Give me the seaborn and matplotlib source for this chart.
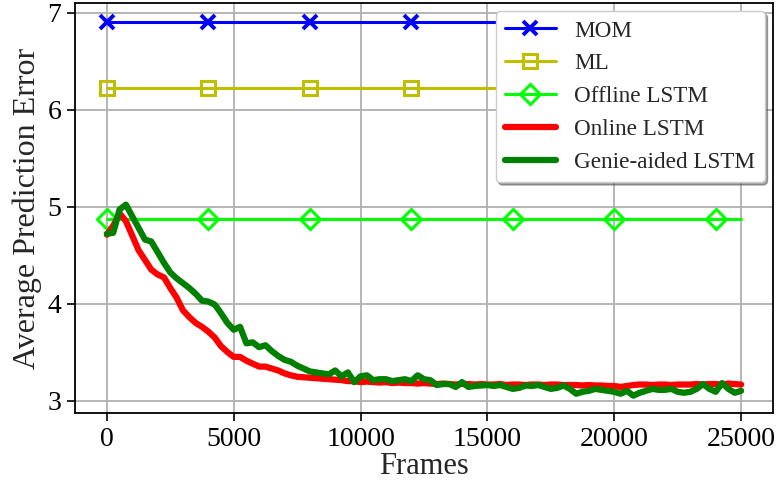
import matplotlib
matplotlib.use("Agg")
import matplotlib.pyplot as plt
import numpy as np
import pandas as pd
import seaborn as sns

# frames sampled every 250 steps
FRAMES = list(range(0, 25001, 250))

MOM_ERROR = 6.90
ML_ERROR = 6.22
OFFLINE_ERROR = 4.87

ONLINE_LSTM = [
    4.71, 4.80, 4.93, 4.85, 4.70, 4.55, 4.45, 4.35, 4.30, 4.27,
    4.16, 4.06, 3.93, 3.86, 3.80, 3.76, 3.71, 3.65, 3.56, 3.50,
    3.45, 3.45, 3.41, 3.38, 3.35, 3.35, 3.33, 3.31, 3.28, 3.26,
    3.245, 3.24, 3.235, 3.23, 3.225, 3.22, 3.215, 3.21, 3.20, 3.20,
    3.19, 3.195, 3.19, 3.185, 3.19, 3.18, 3.185, 3.18, 3.18, 3.175,
    3.18, 3.175, 3.17, 3.175, 3.17, 3.165, 3.17, 3.17, 3.165, 3.17,
    3.165, 3.165, 3.17, 3.16, 3.165, 3.165, 3.16, 3.165, 3.165, 3.16,
    3.165, 3.165, 3.16, 3.16, 3.16, 3.155, 3.16, 3.155, 3.155, 3.15,
    3.15, 3.14, 3.15, 3.16, 3.165, 3.165, 3.16, 3.165, 3.165, 3.16,
    3.165, 3.165, 3.165, 3.17, 3.165, 3.17, 3.17, 3.165, 3.175, 3.17,
    3.165,
]

GENIE_LSTM = [
    4.72, 4.73, 4.97, 5.02, 4.90, 4.78, 4.66, 4.64, 4.53, 4.42,
    4.32, 4.26, 4.21, 4.16, 4.10, 4.03, 4.02, 3.99, 3.90, 3.80,
    3.73, 3.76, 3.59, 3.60, 3.55, 3.57, 3.51, 3.46, 3.42, 3.40,
    3.36, 3.33, 3.30, 3.29, 3.28, 3.27, 3.31, 3.25, 3.29, 3.19,
    3.25, 3.26, 3.21, 3.22, 3.22, 3.20, 3.21, 3.22, 3.20, 3.26,
    3.22, 3.21, 3.16, 3.17, 3.17, 3.14, 3.19, 3.14, 3.15, 3.155,
    3.16, 3.15, 3.16, 3.14, 3.12, 3.13, 3.155, 3.15, 3.16, 3.14,
    3.12, 3.13, 3.155, 3.12, 3.07, 3.09, 3.10, 3.12, 3.11, 3.10,
    3.09, 3.07, 3.10, 3.05, 3.08, 3.10, 3.12, 3.11, 3.11, 3.12,
    3.09, 3.08, 3.09, 3.12, 3.17, 3.12, 3.09, 3.18, 3.12, 3.08,
    3.10,
]

X_TICKS = [0, 5000, 10000, 15000, 20000, 25000]
Y_TICKS = [3, 4, 5, 6, 7]

sns.set_theme(style="ticks")
plt.rcParams["font.family"] = ["Liberation Serif", "DejaVu Serif"]
plt.rcParams["mathtext.fontset"] = "stix"

fig, ax = plt.subplots(figsize=(7.83, 4.93), dpi=100)
fig.subplots_adjust(left=0.096, right=0.987, top=0.994, bottom=0.162)

frames = np.array(FRAMES)
marker_step = 16  # one marker every 4000 frames

sns.lineplot(x=frames, y=np.full(len(frames), MOM_ERROR), ax=ax,
             color="#0000ff", lw=2.2, marker="x", markersize=10, mew=2.8,
             mec="#0000ff", markevery=marker_step, label="MOM")
sns.lineplot(x=frames, y=np.full(len(frames), ML_ERROR), ax=ax,
             color="#bfbf00", lw=2.2, marker="s", markersize=10, mew=2.2,
             mfc="none", mec="#bfbf00", markevery=marker_step, label="ML")
sns.lineplot(x=frames, y=np.full(len(frames), OFFLINE_ERROR), ax=ax,
             color="#00ff00", lw=2.2, marker="D", markersize=10, mew=2.2,
             mfc="none", mec="#00ff00", markevery=marker_step,
             label="Offline LSTM")
sns.lineplot(x=frames, y=ONLINE_LSTM, ax=ax, color="#ff0000", lw=4.5,
             label="Online LSTM")
sns.lineplot(x=frames, y=GENIE_LSTM, ax=ax, color="#008000", lw=4.5,
             label="Genie-aided LSTM")

ax.set_xlim(-1250, 26250)
ax.set_ylim(2.87, 7.1)
ax.set_xticks(X_TICKS)
ax.set_yticks(Y_TICKS)
ax.tick_params(labelsize=20, length=6, width=1.2, colors="black", pad=4)
ax.grid(True, color="#b0b0b0", lw=1.3)
for spine in ax.spines.values():
    spine.set_visible(True)
    spine.set_color("black")
    spine.set_linewidth(1.3)

ax.set_xlabel("Frames", fontsize=22, labelpad=0)
ax.set_ylabel("Average Prediction Error", fontsize=23, labelpad=4)

leg = ax.legend(loc="upper right", fontsize=16.7, shadow=True, fancybox=True,
                framealpha=1, edgecolor="#cccccc", borderaxespad=0.35,
                handlelength=2.2, labelspacing=0.5)

fig.savefig("out.png", dpi=100)
